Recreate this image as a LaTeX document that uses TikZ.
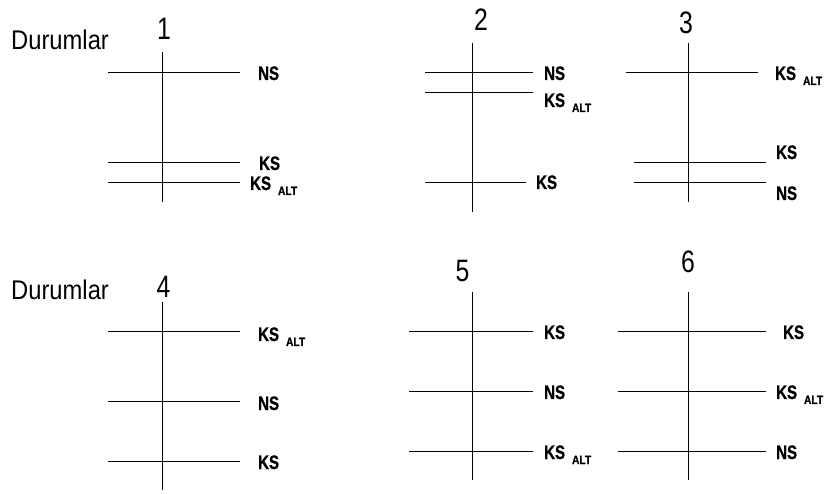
\documentclass[tikz,border=0pt]{standalone}
\usepackage{fontspec}
\setmainfont{Liberation Sans}
\newfontfamily\lblfont{Liberation Sans Bold}[FakeBold=1.2]
\newcommand{\nar}[1]{\scalebox{0.77}[1]{#1}}
\newcommand{\ksalt}{\nar{KS}\hspace{7pt}\raisebox{-5pt}{\fontsize{12}{14}\selectfont\scalebox{0.85}[1]{ALT}}}
\tikzset{
  lbl/.style={anchor=base west,inner sep=0pt,font=\fontsize{19.5}{22}\lblfont},
  num/.style={anchor=base,inner sep=0pt,font=\fontsize{31}{34}\selectfont},
  title/.style={anchor=base west,inner sep=0pt,font=\fontsize{27}{30}\selectfont},
  ln/.style={line width=0.9pt,black}
}
\begin{document}
\begin{tikzpicture}[x=1pt,y=-1pt]
\useasboundingbox (0,0) rectangle (825,494);
% titles
\node[title] (d1) at (11,50) {\scalebox{0.88}[1]{Durumlar}};
\node[title] (d2) at (11,300) {\scalebox{0.88}[1]{Durumlar}};
% numbers
\node[num] (n1) at (164,40) {\scalebox{0.8}[1]{1}};
\node[num] (n2) at (481,31) {\scalebox{0.8}[1]{2}};
\node[num] (n3) at (686,34) {\scalebox{0.8}[1]{3}};
\node[num] (n4) at (163.5,298) {\scalebox{0.8}[1]{4}};
\node[num] (n5) at (462.5,282) {\scalebox{0.8}[1]{5}};
\node[num] (n6) at (688,273) {\scalebox{0.8}[1]{6}};
% panel 1
\draw[ln] (162,52) -- (162,202);
\draw[ln] (108,72) -- (240,72);
\draw[ln] (108,162) -- (240,162);
\draw[ln] (108,182) -- (240,182);
\node[lbl] (p1a) at (258,80) {\nar{NS}};
\node[lbl] (p1b) at (259,170) {\nar{KS}};
\node[lbl] (p1c) at (250,190) {\ksalt};
% panel 2
\draw[ln] (472,43) -- (472,212);
\draw[ln] (425,72) -- (533,72);
\draw[ln] (425,92) -- (533,92);
\draw[ln] (425,182) -- (526,182);
\node[lbl] (p2a) at (544,80) {\nar{NS}};
\node[lbl] (p2b) at (544,107) {\ksalt};
\node[lbl] (p2c) at (536,189) {\nar{KS}};
% panel 3
\draw[ln] (688,43) -- (688,202);
\draw[ln] (626,72) -- (758,72);
\draw[ln] (634,162) -- (766,162);
\draw[ln] (634,182) -- (766,182);
\node[lbl] (p3a) at (775,80) {\ksalt};
\node[lbl] (p3b) at (776,159) {\nar{KS}};
\node[lbl] (p3c) at (776,200) {\nar{NS}};
% panel 4
\draw[ln] (162,302) -- (162,490);
\draw[ln] (108,331) -- (240,331);
\draw[ln] (108,401) -- (240,401);
\draw[ln] (108,461) -- (240,461);
\node[lbl] (p4a) at (258,341) {\ksalt};
\node[lbl] (p4b) at (258,410) {\nar{NS}};
\node[lbl] (p4c) at (258,469) {\nar{KS}};
% panel 5
\draw[ln] (472,292) -- (472,480);
\draw[ln] (409,331) -- (533,331);
\draw[ln] (409,391) -- (533,391);
\draw[ln] (409,451) -- (533,451);
\node[lbl] (p5a) at (544,339) {\nar{KS}};
\node[lbl] (p5b) at (544,399) {\nar{NS}};
\node[lbl] (p5c) at (544,459) {\ksalt};
% panel 6
\draw[ln] (688,292) -- (688,480);
\draw[ln] (618,331) -- (766,331);
\draw[ln] (618,391) -- (766,391);
\draw[ln] (618,451) -- (766,451);
\node[lbl] (p6a) at (783,339) {\nar{KS}};
\node[lbl] (p6b) at (776,399) {\ksalt};
\node[lbl] (p6c) at (776,459) {\nar{NS}};
\end{tikzpicture}
\end{document}
